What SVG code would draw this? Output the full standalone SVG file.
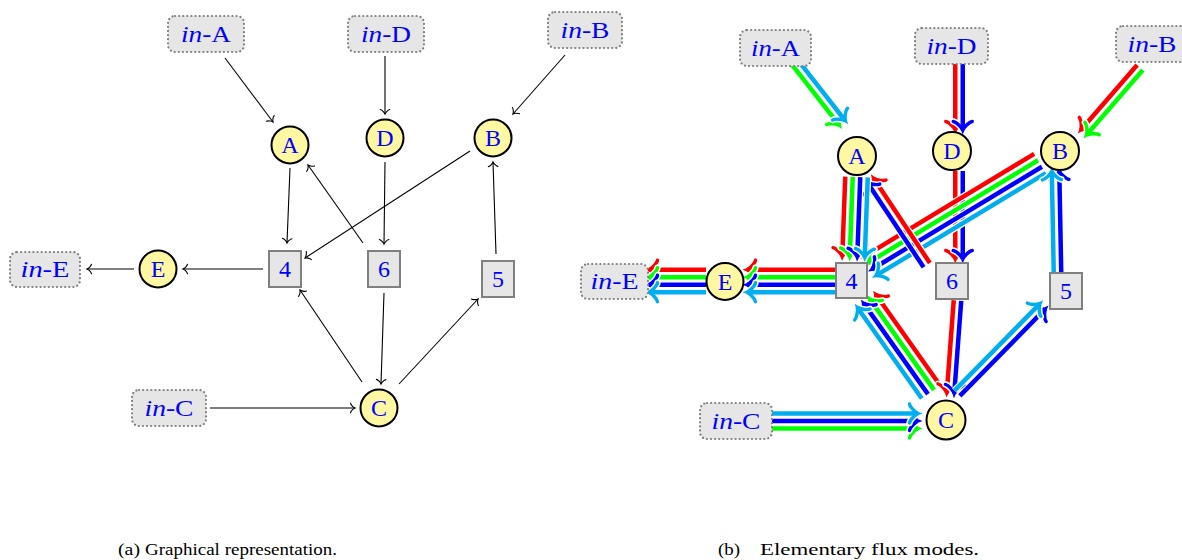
<svg xmlns="http://www.w3.org/2000/svg" width="1182" height="560" viewBox="0 0 1182 560">
<defs>
<marker id="mk" markerUnits="userSpaceOnUse" markerWidth="12" markerHeight="12" viewBox="-6 -6 12 12" refX="0" refY="0" orient="auto" overflow="visible"><path d="M-4.5,4.8 C-4,2.6 -1.1,0.4 0,0 C-1.1,-0.4 -4,-2.6 -4.5,-4.8" fill="none" stroke="#000" stroke-width="1.1" stroke-linecap="round"/></marker>
<marker id="mw" markerUnits="userSpaceOnUse" markerWidth="28" markerHeight="28" viewBox="-14 -14 28 28" refX="0" refY="0" orient="auto" overflow="visible"><path d="M-8.5,9.5 C-8,6 -2,0.8 0,0 C-2,-0.8 -8,-6 -8.5,-9.5" fill="none" stroke="#fff" stroke-width="6.4" stroke-linecap="round"/></marker>
<marker id="mr" markerUnits="userSpaceOnUse" markerWidth="28" markerHeight="28" viewBox="-14 -14 28 28" refX="0" refY="0" orient="auto" overflow="visible"><path d="M-8.5,9.5 C-8,6 -2,0.8 0,0 C-2,-0.8 -8,-6 -8.5,-9.5" fill="none" stroke="#ff0000" stroke-width="3.4" stroke-linecap="round"/></marker>
<marker id="mg" markerUnits="userSpaceOnUse" markerWidth="28" markerHeight="28" viewBox="-14 -14 28 28" refX="0" refY="0" orient="auto" overflow="visible"><path d="M-8.5,9.5 C-8,6 -2,0.8 0,0 C-2,-0.8 -8,-6 -8.5,-9.5" fill="none" stroke="#00ff00" stroke-width="3.4" stroke-linecap="round"/></marker>
<marker id="mb" markerUnits="userSpaceOnUse" markerWidth="28" markerHeight="28" viewBox="-14 -14 28 28" refX="0" refY="0" orient="auto" overflow="visible"><path d="M-8.5,9.5 C-8,6 -2,0.8 0,0 C-2,-0.8 -8,-6 -8.5,-9.5" fill="none" stroke="#0000ff" stroke-width="3.4" stroke-linecap="round"/></marker>
<marker id="mc" markerUnits="userSpaceOnUse" markerWidth="28" markerHeight="28" viewBox="-14 -14 28 28" refX="0" refY="0" orient="auto" overflow="visible"><path d="M-8.5,9.5 C-8,6 -2,0.8 0,0 C-2,-0.8 -8,-6 -8.5,-9.5" fill="none" stroke="#00aeef" stroke-width="3.4" stroke-linecap="round"/></marker>
</defs>
<style>
.k{fill:none;stroke:#000;stroke-width:1.1;marker-end:url(#mk)}
.w{fill:none;stroke:#fff;stroke-width:7;marker-end:url(#mw)}
.r{fill:none;stroke:#ff0000;stroke-width:4.5;marker-end:url(#mr)}
.g{fill:none;stroke:#00ff00;stroke-width:4.5;marker-end:url(#mg)}
.b{fill:none;stroke:#0000ff;stroke-width:4.5;marker-end:url(#mb)}
.c{fill:none;stroke:#00aeef;stroke-width:4.5;marker-end:url(#mc)}
.met{fill:#fff7a1;stroke:#000;stroke-width:2}
.rx{fill:#e6e6e6;stroke:#808080;stroke-width:2}
.ext{fill:#e6e6e6;stroke:#808080;stroke-width:2.2;stroke-dasharray:0.1 4;stroke-linecap:round}
.lb{font-family:"Liberation Serif","Times New Roman",serif;font-size:24px;fill:#0000ff;text-anchor:middle}
.it{font-style:italic}
.cap{font-family:"Liberation Serif","Times New Roman",serif;font-size:17px;fill:#000}
</style>
<rect width="1182" height="560" fill="#fff"/>

<g id="connectors">
<g id="left-edges">
<path class="k" d="M225,58 L273,122"/>
<path class="k" d="M385,56 L385,114"/>
<path class="k" d="M565,55 L513,114"/>
<path class="k" d="M290,168 L287,243"/>
<path class="k" d="M363,243 L308,165"/>
<path class="k" d="M385,162 L384,244"/>
<path class="k" d="M470,151 L305,258"/>
<path class="k" d="M496,254 L493,162"/>
<path class="k" d="M263,269 L183,269"/>
<path class="k" d="M134,269 L87,269"/>
<path class="k" d="M362,382 L300,290"/>
<path class="k" d="M384,293 L381,384"/>
<path class="k" d="M399,384 L478,299"/>
<path class="k" d="M210,408 L355,408"/>
</g>
<g id="right-edges">
<g transform="translate(789 67) rotate(52)">
<path class="w" d="M0,-3.75H77"/><path class="g" d="M0,-3.75H77"/>
<path class="w" d="M0,-11.25H77"/><path class="c" d="M0,-11.25H77"/>
</g>
<g transform="translate(951.5 64) rotate(90)">
<path class="w" d="M0,-3.75H66"/><path class="r" d="M0,-3.75H66"/>
<path class="w" d="M0,-11.25H66"/><path class="b" d="M0,-11.25H66"/>
</g>
<g transform="translate(1134.3 62.6) rotate(130.9)">
<path class="w" d="M0,-3.75H86"/><path class="r" d="M0,-3.75H86"/>
<path class="w" d="M0,-11.25H86"/><path class="g" d="M0,-11.25H86"/>
</g>
<g transform="translate(772 421)">
<path class="w" d="M0,7.5H146"/><path class="g" d="M0,7.5H146"/>
<path class="w" d="M0,0H146"/><path class="b" d="M0,0H146"/>
<path class="w" d="M0,-7.5H146"/><path class="c" d="M0,-7.5H146"/>
</g>
<g transform="translate(951.5 171) rotate(90)">
<path class="w" d="M0,-3.75H88"/><path class="r" d="M0,-3.75H88"/>
<path class="w" d="M0,-11.25H88"/><path class="b" d="M0,-11.25H88"/>
</g>
<g transform="translate(1040 163.5) rotate(148.9)">
<path class="w" d="M0,11.25H198.5"/><path class="r" d="M0,11.25H198.5"/>
<path class="w" d="M0,3.75H198.5"/><path class="g" d="M0,3.75H198.5"/>
<path class="w" d="M0,-3.75H198.5"/><path class="b" d="M0,-3.75H198.5"/>
<path class="w" d="M0,-11.25H198.5"/><path class="c" d="M0,-11.25H198.5"/>
</g>
<g transform="translate(933 261) rotate(-123.6)">
<path class="w" d="M0,-3.75H102"/><path class="r" d="M0,-3.75H102"/>
<path class="w" d="M0,-11.25H102"/><path class="b" d="M0,-11.25H102"/>
</g>
<g transform="translate(856.5 177) rotate(92.15)">
<path class="w" d="M0,11.25H80"/><path class="r" d="M0,11.25H80"/>
<path class="w" d="M0,3.75H80"/><path class="g" d="M0,3.75H80"/>
<path class="w" d="M0,-3.75H80"/><path class="b" d="M0,-3.75H80"/>
<path class="w" d="M0,-11.25H80"/><path class="c" d="M0,-11.25H80"/>
</g>
<g transform="translate(1065 273) rotate(-91.1)">
<path class="w" d="M0,-3.75H102"/><path class="b" d="M0,-3.75H102"/>
<path class="w" d="M0,-11.25H102"/><path class="c" d="M0,-11.25H102"/>
</g>
<g transform="translate(836 281) rotate(180)">
<path class="w" d="M0,11.25H89"/><path class="r" d="M0,11.25H89"/>
<path class="w" d="M0,3.75H89"/><path class="g" d="M0,3.75H89"/>
<path class="w" d="M0,-3.75H89"/><path class="b" d="M0,-3.75H89"/>
<path class="w" d="M0,-11.25H89"/><path class="c" d="M0,-11.25H89"/>
</g>
<g transform="translate(706 281) rotate(180)">
<path class="w" d="M0,11.25H57"/><path class="r" d="M0,11.25H57"/>
<path class="w" d="M0,3.75H57"/><path class="g" d="M0,3.75H57"/>
<path class="w" d="M0,-3.75H57"/><path class="b" d="M0,-3.75H57"/>
<path class="w" d="M0,-11.25H57"/><path class="c" d="M0,-11.25H57"/>
</g>
<g transform="translate(931 392) rotate(-125.3)">
<path class="w" d="M0,11.25H111.5"/><path class="r" d="M0,11.25H111.5"/>
<path class="w" d="M0,3.75H111.5"/><path class="g" d="M0,3.75H111.5"/>
<path class="w" d="M0,-3.75H111.5"/><path class="b" d="M0,-3.75H111.5"/>
<path class="w" d="M0,-11.25H111.5"/><path class="c" d="M0,-11.25H111.5"/>
</g>
<g transform="translate(950 300) rotate(94.3)">
<path class="w" d="M0,-3.75H93"/><path class="r" d="M0,-3.75H93"/>
<path class="w" d="M0,-11.25H93"/><path class="b" d="M0,-11.25H93"/>
</g>
<g transform="translate(962.5 398.5) rotate(-45.5)">
<path class="w" d="M0,-3.75H122"/><path class="b" d="M0,-3.75H122"/>
<path class="w" d="M0,-11.25H122"/><path class="c" d="M0,-11.25H122"/>
</g>
</g>
</g>

<g id="a-inA"><rect class="ext" x="168" y="16" width="76" height="36" rx="7"/><text class="lb" x="206" y="42" textLength="50" lengthAdjust="spacingAndGlyphs"><tspan class="it">in</tspan>-A</text></g>
<g id="a-inD"><rect class="ext" x="348" y="16" width="76" height="36" rx="7"/><text class="lb" x="386" y="42" textLength="50" lengthAdjust="spacingAndGlyphs"><tspan class="it">in</tspan>-D</text></g>
<g id="a-inB"><rect class="ext" x="548" y="12" width="74" height="36" rx="7"/><text class="lb" x="585" y="38" textLength="49" lengthAdjust="spacingAndGlyphs"><tspan class="it">in</tspan>-B</text></g>
<g id="a-inE"><rect class="ext" x="10" y="252" width="70" height="35" rx="7"/><text class="lb" x="45" y="277" textLength="49" lengthAdjust="spacingAndGlyphs"><tspan class="it">in</tspan>-E</text></g>
<g id="a-inC"><rect class="ext" x="132" y="390" width="74" height="36" rx="7"/><text class="lb" x="169" y="416" textLength="49" lengthAdjust="spacingAndGlyphs"><tspan class="it">in</tspan>-C</text></g>
<g id="a-A"><circle class="met" cx="290" cy="145" r="18.5"/><text class="lb" x="290" y="153">A</text></g>
<g id="a-D"><circle class="met" cx="385" cy="138" r="18.5"/><text class="lb" x="385" y="146">D</text></g>
<g id="a-B"><circle class="met" cx="493" cy="138" r="18.5"/><text class="lb" x="493" y="146">B</text></g>
<g id="a-E"><circle class="met" cx="158" cy="269" r="18.5"/><text class="lb" x="158" y="277">E</text></g>
<g id="a-C"><circle class="met" cx="379" cy="408" r="18.5"/><text class="lb" x="379" y="416">C</text></g>
<g id="a-4"><rect class="rx" x="269" y="251" width="32" height="36"/><text class="lb" x="285" y="277">4</text></g>
<g id="a-6"><rect class="rx" x="368" y="251" width="32" height="36"/><text class="lb" x="384" y="277">6</text></g>
<g id="a-5"><rect class="rx" x="482" y="261" width="32" height="36"/><text class="lb" x="498" y="287">5</text></g>

<g id="b-inA"><rect class="ext" x="740" y="30" width="71" height="36" rx="7"/><text class="lb" x="775.5" y="56" textLength="49" lengthAdjust="spacingAndGlyphs"><tspan class="it">in</tspan>-A</text></g>
<g id="b-inD"><rect class="ext" x="915" y="28" width="73" height="36" rx="7"/><text class="lb" x="951.5" y="54" textLength="50" lengthAdjust="spacingAndGlyphs"><tspan class="it">in</tspan>-D</text></g>
<g id="b-inB"><rect class="ext" x="1116" y="26" width="76" height="36" rx="7"/><text class="lb" x="1152" y="52" textLength="49" lengthAdjust="spacingAndGlyphs"><tspan class="it">in</tspan>-B</text></g>
<g id="b-inE"><rect class="ext" x="581" y="264" width="67" height="35" rx="7"/><text class="lb" x="614.5" y="289" textLength="48" lengthAdjust="spacingAndGlyphs"><tspan class="it">in</tspan>-E</text></g>
<g id="b-inC"><rect class="ext" x="700" y="403" width="72" height="36" rx="7"/><text class="lb" x="736" y="429" textLength="49" lengthAdjust="spacingAndGlyphs"><tspan class="it">in</tspan>-C</text></g>
<g id="b-A"><circle class="met" cx="857" cy="156" r="19"/><text class="lb" x="857" y="164">A</text></g>
<g id="b-D"><circle class="met" cx="952" cy="151" r="19"/><text class="lb" x="952" y="159">D</text></g>
<g id="b-B"><circle class="met" cx="1060" cy="151" r="19"/><text class="lb" x="1060" y="159">B</text></g>
<g id="b-E"><circle class="met" cx="725" cy="281.5" r="18.5"/><text class="lb" x="725" y="289.5">E</text></g>
<g id="b-C"><circle class="met" cx="946" cy="420" r="19.5"/><text class="lb" x="946" y="428">C</text></g>
<g id="b-4"><rect class="rx" x="836" y="263" width="31" height="35"/><text class="lb" x="851.5" y="288.5">4</text></g>
<g id="b-6"><rect class="rx" x="936" y="263" width="32" height="36"/><text class="lb" x="952" y="289">6</text></g>
<g id="b-5"><rect class="rx" x="1050" y="273" width="32" height="36"/><text class="lb" x="1066" y="299">5</text></g>

<g id="captions">
<text class="cap" x="118" y="555" textLength="22" lengthAdjust="spacingAndGlyphs">(a)</text>
<text class="cap" x="145" y="555" textLength="192" lengthAdjust="spacingAndGlyphs">Graphical representation.</text>
<text class="cap" x="718" y="555" textLength="22" lengthAdjust="spacingAndGlyphs">(b)</text>
<text class="cap" x="760" y="555" textLength="219" lengthAdjust="spacingAndGlyphs">Elementary flux modes.</text>
</g>
</svg>
